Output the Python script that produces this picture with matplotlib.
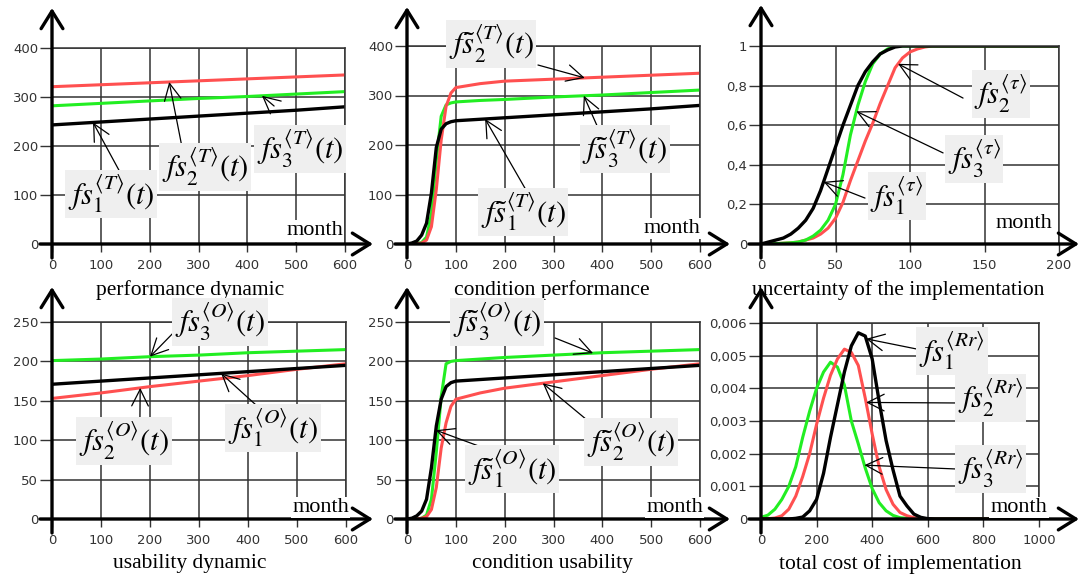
import numpy as np
import matplotlib
matplotlib.use('Agg')
import matplotlib.pyplot as plt

plt.rcParams['font.family'] = ['DejaVu Sans']
plt.rcParams['mathtext.fontset'] = 'stix'

# ---------------- data ----------------
# performance dynamic (linear growth)
t_dyn = [0, 100, 200, 300, 400, 500, 600]
perf_black = [243, 249, 255, 261, 267, 273, 280]
perf_red = [321, 325, 329, 333, 337, 341, 345]
perf_green = [282, 287, 292, 297, 301, 306, 311]

# usability dynamic
usab_black = [171, 175, 179, 183, 187, 191, 195]
usab_red = [153, 160, 168, 175, 182, 190, 197]
usab_green = [201, 203, 206, 208, 211, 213, 215]

# condition performance / usability (s-shaped start then linear)
t_cond = [0, 10, 20, 30, 40, 50, 60, 70, 80, 90, 100, 150, 200, 300, 400, 500, 600]
cperf_black = [0, 2, 6, 18, 42, 103, 195, 232, 243, 247, 249, 252, 255, 261, 267, 273, 280]
cperf_green = [0, 0, 1, 3, 14, 60, 170, 258, 281, 285, 287, 290, 292, 297, 301, 306, 311]
cperf_red = [0, 0, 0, 2, 8, 35, 110, 210, 278, 305, 316, 324, 329, 333, 337, 341, 345]

cusab_black = [0, 1, 4, 10, 25, 65, 118, 152, 168, 173, 175, 177, 179, 183, 187, 191, 195]
cusab_green = [0, 0, 0, 1, 5, 25, 85, 155, 197, 200, 201, 203, 205, 208, 211, 213, 215]
cusab_red = [0, 0, 0, 1, 3, 12, 40, 90, 122, 143, 152, 160, 166, 174, 182, 190, 197]

# uncertainty of the implementation (distribution functions)
t_unc = [0, 5, 10, 15, 20, 25, 30, 35, 40, 45, 50, 55, 60, 65, 70, 75, 80, 85,
         90, 95, 100, 105, 110, 115, 120, 200]
unc_black = [0, 0.01, 0.02, 0.03, 0.05, 0.08, 0.12, 0.18, 0.27, 0.38, 0.49, 0.60, 0.70,
             0.80, 0.87, 0.92, 0.96, 0.98, 0.995, 1, 1, 1, 1, 1, 1, 1]
unc_green = [0, 0, 0.002, 0.004, 0.006, 0.01, 0.02, 0.04, 0.07, 0.12, 0.20, 0.35, 0.55,
             0.70, 0.82, 0.91, 0.96, 0.985, 1, 1, 1, 1, 1, 1, 1, 1]
unc_red = [0, 0, 0.002, 0.004, 0.006, 0.01, 0.02, 0.03, 0.05, 0.08, 0.13, 0.21, 0.32,
           0.42, 0.52, 0.61, 0.71, 0.80, 0.89, 0.94, 0.97, 0.985, 0.995, 1, 1, 1]

# total cost of implementation (densities)
cost = [0, 25, 50, 75, 100, 125, 150, 175, 200, 225, 250, 275, 300, 325, 350, 375,
        400, 425, 450, 475, 500, 525, 550, 575, 600, 625, 650, 1000]
cost_green = [0.00005, 0.00012, 0.0003, 0.0006, 0.001, 0.0016, 0.0025, 0.0033, 0.004,
              0.0045, 0.0048, 0.00465, 0.0041, 0.0030, 0.0023, 0.00156, 0.00093, 0.0005,
              0.00025, 0.00011, 0.00004, 0.00002, 0.00001, 0, 0, 0, 0, 0]
cost_red = [0, 0.00001, 0.00003, 0.0001, 0.0003, 0.0007, 0.0013, 0.002, 0.0029, 0.0037,
            0.0044, 0.0049, 0.0052, 0.0051, 0.0047, 0.0037, 0.0026, 0.0016, 0.0009,
            0.00045, 0.0002, 0.0001, 0.00004, 0.00002, 0, 0, 0, 0]
cost_black = [0, 0, 0, 0, 0, 0.00002, 0.00006, 0.00025, 0.0006, 0.0014, 0.0025, 0.0035,
              0.0045, 0.0053, 0.0057, 0.0056, 0.0049, 0.0036, 0.0024, 0.0015, 0.0007,
              0.0004, 0.00015, 0.00005, 0.00001, 0, 0, 0]

xt_600 = [0, 100, 200, 300, 400, 500, 600]
yt_400 = [0, 100, 200, 300, 400]
yt_250 = [0, 50, 100, 150, 200, 250]
xt_200 = [0, 50, 100, 150, 200]
yt_1 = [0, 0.2, 0.4, 0.6, 0.8, 1]
yl_1 = ['0', '0,2', '0,4', '0,6', '0,8', '1']
xt_1000 = [0, 200, 400, 600, 800, 1000]
yt_006 = [0, 0.001, 0.002, 0.003, 0.004, 0.005, 0.006]
yl_006 = ['0', '0,001', '0,002', '0,003', '0,004', '0,005', '0,006']

RED = '#ff5050'
GREEN = '#22ee22'
W, H = 1081, 576

fig = plt.figure(figsize=(W / 100, H / 100), dpi=100)


def panel(x0, x1, y0, y1, ytip, xtip, xlim, ylim, xt, yt, ylab=None):
    ax = fig.add_axes([x0 / W, 1 - y1 / H, (x1 - x0) / W, (y1 - y0) / H])
    ax.set_xlim(xlim)
    ax.set_ylim(ylim)
    ax.set_xticks(xt)
    ax.set_yticks(yt)
    if ylab is not None:
        ax.set_yticklabels(ylab)
    ax.grid(True, color='#333333', lw=1.1)
    for s in ax.spines.values():
        s.set_color('#333333')
        s.set_linewidth(1.1)
    ax.spines['left'].set_visible(False)
    ax.spines['bottom'].set_visible(False)
    ax.tick_params(axis='y', direction='out', length=9, width=1, color='#333333',
                   labelsize=9.5, labelcolor='#333333', pad=1)
    ax.tick_params(axis='x', direction='out', length=6, width=1, color='#333333',
                   labelsize=9.5, labelcolor='#333333', pad=5)
    # thick axes with open arrow heads
    fp = lambda x, y: (x, H - y)
    arrow = dict(arrowstyle='->,head_length=0.45,head_width=0.28', lw=2.4,
                 color='black', mutation_scale=28, shrinkA=0, shrinkB=0)
    ax.annotate('', xy=fp(x0, ytip), xytext=fp(x0, y1 + 14),
                xycoords='figure pixels', arrowprops=arrow)
    ax.annotate('', xy=fp(xtip, y1), xytext=fp(x0 - 12, y1),
                xycoords='figure pixels', arrowprops=arrow)
    return ax


def month(ax, x, y):
    ax.text(x, y, 'month', transform=ax.transAxes, ha='right', va='baseline',
            family='Liberation Serif', fontsize=16,
            bbox=dict(facecolor='white', edgecolor='none', pad=1))


def xname(ax, x, y, s):
    ax.text(x, y, s, transform=ax.transAxes, ha='center', va='center',
            family='Liberation Serif', fontsize=15.5)


def label(ax, s, center, start, tx, xs, ys):
    ty = float(np.interp(tx, xs, ys))
    ax.annotate('', xy=(tx, ty), xytext=start, textcoords='axes fraction',
                arrowprops=dict(arrowstyle='->,head_length=0.6,head_width=0.3',
                                lw=0.9, color='black', mutation_scale=20,
                                shrinkA=0, shrinkB=0), annotation_clip=False)
    ax.text(center[0], center[1], s, transform=ax.transAxes, ha='center', va='center',
            fontsize=22, clip_on=False,
            bbox=dict(facecolor='#efefef', edgecolor='none', pad=2))


# ---- performance dynamic ----
ax1 = panel(52, 345, 48, 244, 8, 373, (0, 600), (0, 400), xt_600, yt_400)
ax1.plot(t_dyn, perf_red, color=RED, lw=2.2)
ax1.plot(t_dyn, perf_green, color=GREEN, lw=2.2)
ax1.plot(t_dyn, perf_black, color='black', lw=2.4)
month(ax1, 0.993, 0.045)
xname(ax1, 0.47, -0.235, 'performance dynamic')
label(ax1, r'$fs_1^{\langle T\rangle}(t)$', (0.201, 0.255), (0.232, 0.367), 84, t_dyn, perf_black)
label(ax1, r'$fs_2^{\langle T\rangle}(t)$', (0.522, 0.393), (0.447, 0.469), 240, t_dyn, perf_red)
label(ax1, r'$fs_3^{\langle T\rangle}(t)$', (0.846, 0.485), (0.758, 0.704), 430, t_dyn, perf_green)

# ---- condition performance ----
ax2 = panel(407, 700, 46, 244, 7, 730, (0, 600), (0, 400), xt_600, yt_400)
ax2.plot(t_cond, cperf_green, color=GREEN, lw=2.2)
ax2.plot(t_cond, cperf_red, color=RED, lw=2.2)
ax2.plot(t_cond, cperf_black, color='black', lw=2.4)
month(ax2, 1.0, 0.055)
xname(ax2, 0.495, -0.232, 'condition performance')
label(ax2, r'$f\tilde{s}_2^{\langle T\rangle}(t)$', (0.287, 1.01), (0.447, 0.904), 364, t_cond, cperf_red)
label(ax2, r'$f\tilde{s}_3^{\langle T\rangle}(t)$', (0.744, 0.48), (0.652, 0.586), 362, t_cond, cperf_green)
label(ax2, r'$f\tilde{s}_1^{\langle T\rangle}(t)$', (0.396, 0.162), (0.41, 0.263), 160, t_cond, cperf_black)

# ---- uncertainty of the implementation ----
ax3 = panel(761, 1059, 46, 244, 5, 1079, (0, 200), (0, 1), xt_200, yt_1, yl_1)
ax3.plot(t_unc, unc_red, color=RED, lw=2.2)
ax3.plot(t_unc, unc_green, color=GREEN, lw=2.2)
ax3.plot(t_unc, unc_black, color='black', lw=2.4)
month(ax3, 0.977, 0.08)
xname(ax3, 0.46, -0.232, 'uncertainty of the implementation')
label(ax3, r'$fs_2^{\langle \tau\rangle}$', (0.805, 0.758), (0.678, 0.737), 92, t_unc, unc_red)
label(ax3, r'$fs_3^{\langle \tau\rangle}$', (0.715, 0.429), (0.611, 0.46), 64, t_unc, unc_green)
label(ax3, r'$fs_1^{\langle \tau\rangle}$', (0.456, 0.242), (0.349, 0.232), 42, t_unc, unc_black)

# ---- usability dynamic ----
ax4 = panel(52, 346, 322, 519, 287, 373, (0, 600), (0, 250), xt_600, yt_250)
ax4.plot(t_dyn, usab_green, color=GREEN, lw=2.2)
ax4.plot(t_dyn, usab_red, color=RED, lw=2.2)
ax4.plot(t_dyn, usab_black, color='black', lw=2.4)
month(ax4, 1.01, 0.036)
xname(ax4, 0.47, -0.228, 'usability dynamic')
label(ax4, r'$fs_3^{\langle O\rangle}(t)$', (0.571, 1.0), (0.412, 0.944), 200, t_dyn, usab_green)
label(ax4, r'$fs_2^{\langle O\rangle}(t)$', (0.245, 0.396), (0.299, 0.503), 180, t_dyn, usab_red)
label(ax4, r'$fs_1^{\langle O\rangle}(t)$', (0.752, 0.462), (0.701, 0.569), 345, t_dyn, usab_black)

# ---- condition usability ----
ax5 = panel(407, 700, 322, 519, 287, 730, (0, 600), (0, 250), xt_600, yt_250)
ax5.plot(t_cond, cusab_green, color=GREEN, lw=2.2)
ax5.plot(t_cond, cusab_red, color=RED, lw=2.2)
ax5.plot(t_cond, cusab_black, color='black', lw=2.4)
month(ax5, 1.01, 0.036)
xname(ax5, 0.495, -0.228, 'condition usability')
label(ax5, r'$f\tilde{s}_3^{\langle O\rangle}(t)$', (0.307, 1.0), (0.505, 0.919), 381, t_cond, cusab_green)
label(ax5, r'$f\tilde{s}_2^{\langle O\rangle}(t)$', (0.765, 0.391), (0.614, 0.503), 278, t_cond, cusab_red)
label(ax5, r'$f\tilde{s}_1^{\langle O\rangle}(t)$', (0.358, 0.254), (0.30, 0.34), 59, t_cond, cusab_black)

# ---- total cost of implementation ----
ax6 = panel(761, 1039, 323, 519, 287, 1079, (0, 1000), (0, 0.006), xt_1000, yt_006, yl_006)
ax6.plot(cost, cost_green, color=GREEN, lw=2.2)
ax6.plot(cost, cost_red, color=RED, lw=2.2)
ax6.plot(cost, cost_black, color='black', lw=2.4)
month(ax6, 1.03, 0.036)
xname(ax6, 0.5, -0.228, 'total cost of implementation')
label(ax6, r'$fs_1^{\langle Rr\rangle}$', (0.687, 0.857), (0.561, 0.867), 378, cost, cost_black)
label(ax6, r'$fs_2^{\langle Rr\rangle}$', (0.827, 0.617), (0.701, 0.592), 378, cost, cost_red)
label(ax6, r'$fs_3^{\langle Rr\rangle}$', (0.827, 0.255), (0.705, 0.255), 372, cost, cost_green)

fig.savefig('out.png', dpi=100)
